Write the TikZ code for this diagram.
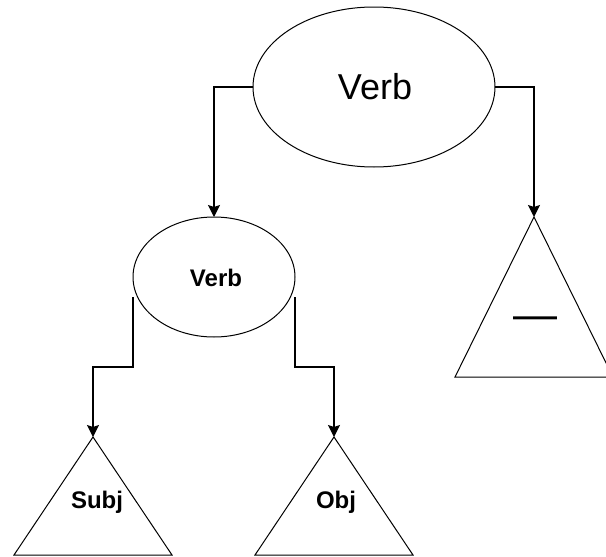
\documentclass[tikz,border=0pt]{standalone}
\usepackage{fontspec}
\setmainfont{Liberation Sans}
\usetikzlibrary{shapes.geometric,arrows.meta}
\begin{document}
\begin{tikzpicture}[x=1pt,y=-1pt,
  ell/.style={draw, ellipse, line width=1pt, inner sep=0pt, outer sep=0pt},
  tri/.style={draw, isosceles triangle, shape border rotate=90, isosceles triangle stretches,
    line width=1pt, inner sep=0pt, outer sep=0pt, anchor=apex},
  arr/.style={line width=1.3pt, -{Stealth[length=12pt,width=12pt,inset=2pt]}},
  big/.style={font=\fontsize{36}{40}\selectfont},
  lab/.style={font=\bfseries\fontsize{24}{27}\selectfont}]
\useasboundingbox (0,0) rectangle (606,557);
\clip (0,0) rectangle (606,557);
% ellipses
\node[ell, minimum width=242pt, minimum height=160pt] (top) at (374,87) {};
\node[big] (toptxt) at (375,87) {Verb};
\node[ell, minimum width=162pt, minimum height=120pt] (sv) at (214,277) {};
\node[lab] (svtxt) at (216,278) {Verb};
% triangles
\node[tri, minimum width=158pt, minimum height=160pt] (rt) at (534,217) {};
\node[font=\fontsize{44}{48}\selectfont] (rttxt) at (535,323) {—};
\node[tri, minimum width=158pt, minimum height=118pt] (subj) at (93,437) {};
\node[lab] (subjtxt) at (97,502) {Subj};
\node[tri, minimum width=158pt, minimum height=118pt] (obj) at (334,437) {};
\node[lab] (objtxt) at (336,502) {Obj};
% connectors
\draw[arr] (top.west) -| (sv.north);
\draw[arr] (top.east) -| (rt.apex);
\draw[arr] ([yshift=-20pt]sv.west) -- ++(0,70) -| (subj.apex);
\draw[arr] ([yshift=-20pt]sv.east) -- ++(0,70) -| (obj.apex);
\end{tikzpicture}
\end{document}
